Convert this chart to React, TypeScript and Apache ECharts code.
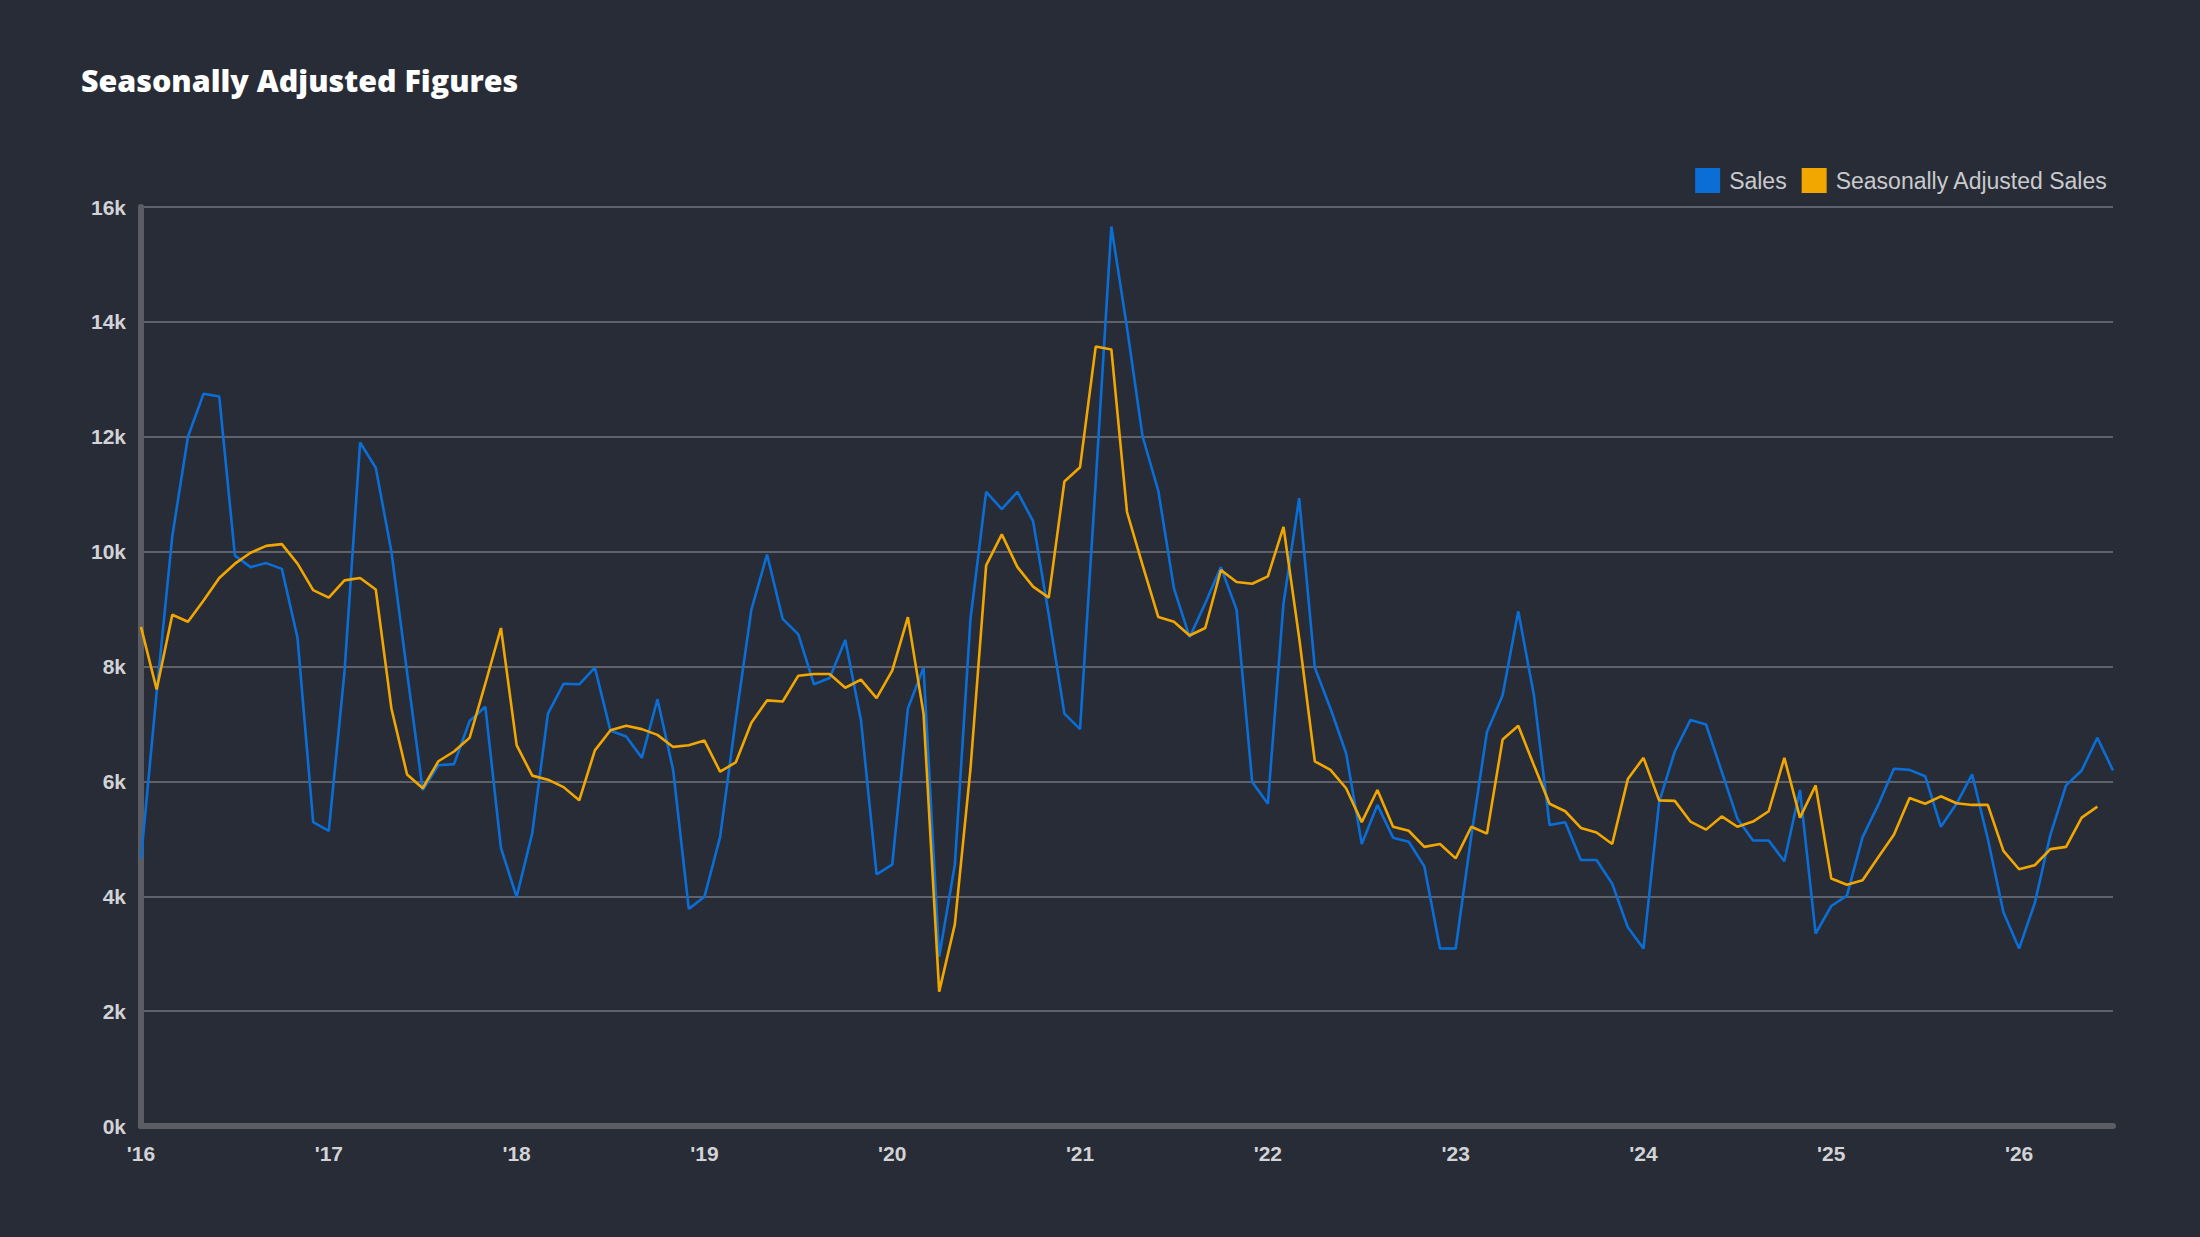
import { useEffect, useRef } from 'react'
import * as echarts from 'echarts'

// monthly points, Jan 2016 .. Jul 2026
const yearLabels = ["'16", "'17", "'18", "'19", "'20", "'21", "'22", "'23", "'24", "'25", "'26"]
const months = yearLabels.flatMap(y => Array.from({ length: 12 }, (_, i) => `${y}-${i + 1}`)).slice(0, 127)

const sales = [
  4650, 7550, 10270, 12000, 12750, 12700, 9930, 9730, 9800, 9700, 8500, 5290,
  5140, 7900, 11900, 11460, 10000, 7900, 5850, 6280, 6300, 7050, 7300, 4840,
  3990, 5100, 7180, 7700, 7690, 7980, 6880, 6780, 6410, 7430, 6200, 3780,
  3990, 5030, 7070, 8990, 9950, 8830, 8560, 7690, 7800, 8460, 7070, 4380,
  4550, 7270, 7980, 2950, 4550, 8830, 11040, 10740, 11040, 10530, 8900, 7180,
  6910, 11200, 15660, 13900, 12000, 11060, 9360, 8510, 9100, 9730, 8990, 5990,
  5610, 9100, 10930, 7980, 7270, 6490, 4910, 5590, 5020, 4950, 4520, 3090,
  3090, 5050, 6860, 7500, 8960, 7500, 5240, 5290, 4630, 4630, 4220, 3460,
  3090, 5640, 6520, 7070, 6990, 6170, 5350, 4970, 4970, 4610, 5850, 3350,
  3830, 4010, 5030, 5590, 6220, 6200, 6090, 5210, 5610, 6120, 5000, 3720,
  3090, 3880, 5070, 5930, 6190, 6760, 6190,
]

const adjustedSales = [
  8690, 7600, 8900, 8780, 9150, 9540, 9790, 9980, 10100, 10130, 9790, 9330,
  9200, 9500, 9540, 9340, 7270, 6120, 5880, 6350, 6520, 6760, 7700, 8670,
  6630, 6100, 6030, 5900, 5670, 6540, 6890, 6970, 6910, 6810, 6600, 6630,
  6710, 6170, 6330, 7020, 7410, 7390, 7840, 7870, 7870, 7630, 7770, 7450,
  7930, 8860, 7180, 2340, 3510, 6220, 9760, 10300, 9730, 9390, 9200, 11220,
  11470, 13570, 13520, 10690, 9760, 8860, 8780, 8540, 8670, 9680, 9470, 9440,
  9570, 10430, 8500, 6350, 6200, 5880, 5290, 5850, 5210, 5140, 4860, 4910,
  4660, 5210, 5090, 6730, 6970, 6280, 5610, 5480, 5190, 5110, 4910, 6040,
  6410, 5670, 5660, 5300, 5160, 5390, 5210, 5300, 5480, 6410, 5370, 5930,
  4310, 4200, 4280, 4680, 5070, 5710, 5610, 5740, 5620, 5590, 5590, 4790,
  4470, 4540, 4820, 4860, 5370, 5560, null,
]

export default function App() {
  const chartRef = useRef<HTMLDivElement>(null)

  useEffect(() => {
    if (!chartRef.current) return
    const chart = echarts.init(chartRef.current, null, { renderer: 'svg' })

    const axisGray = '#5b5d63'
    const labelGray = '#d2d3d6'

    chart.setOption({
      animation: false,
      backgroundColor: '#282c37',
      title: {
        text: 'Seasonally Adjusted Figures',
        left: 81,
        top: 65,
        padding: 0,
        textStyle: {
          color: '#ffffff',
          fontFamily: 'Open Sans',
          fontWeight: 800,
          fontSize: 30.4,
        },
      },
      legend: {
        right: 87,
        top: 163,
        icon: 'rect',
        itemWidth: 25,
        itemHeight: 25,
        itemGap: 15,
        textStyle: {
          color: '#c9cacd',
          fontFamily: 'Liberation Sans',
          fontSize: 23,
          padding: [0, 0, 0, 4],
        },
        data: ['Sales', 'Seasonally Adjusted Sales'],
      },
      grid: {
        left: 141,
        right: 87,
        top: 207,
        bottom: 111,
        containLabel: false,
      },
      xAxis: {
        type: 'category',
        data: months,
        boundaryGap: false,
        axisLine: { lineStyle: { color: axisGray, width: 6 } },
        axisTick: { show: false },
        splitLine: { show: false },
        axisLabel: {
          interval: (i: number) => i % 12 === 0,
          formatter: (v: string) => v.split('-')[0],
          color: labelGray,
          fontFamily: 'Liberation Sans',
          fontWeight: 'bold',
          fontSize: 21,
          margin: 17,
        },
      },
      yAxis: {
        type: 'value',
        min: 0,
        max: 16000,
        interval: 2000,
        axisLine: { show: true, lineStyle: { color: axisGray, width: 6 } },
        axisTick: { show: false },
        splitLine: { lineStyle: { color: '#5f626b', width: 2 } },
        axisLabel: {
          formatter: (v: number) => `${v / 1000}k`,
          color: labelGray,
          fontFamily: 'Liberation Sans',
          fontWeight: 'bold',
          fontSize: 21,
          margin: 15,
        },
      },
      series: [
        {
          name: 'Sales',
          type: 'line',
          data: sales,
          showSymbol: false,
          itemStyle: { color: '#0a6ed6' },
          lineStyle: { color: '#0a6ed6', width: 2.6 },
        },
        {
          name: 'Seasonally Adjusted Sales',
          type: 'line',
          data: adjustedSales,
          showSymbol: false,
          itemStyle: { color: '#f2a600' },
          lineStyle: { color: '#f2a600', width: 2.6 },
        },
      ],
    })

    return () => {
      chart.dispose()
    }
  }, [])

  return <div ref={chartRef} style={{ position: 'fixed', left: 0, top: 0, width: '100vw', height: '100vh' }} />
}
